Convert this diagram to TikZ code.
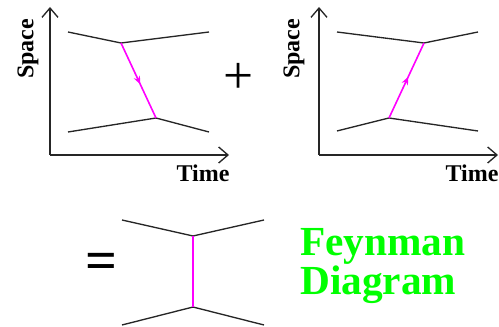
\documentclass[tikz,border=0pt]{standalone}
\usepackage{fontspec}
\setmainfont{Liberation Serif}
\usetikzlibrary{arrows.meta, decorations.markings}
\definecolor{propmag}{RGB}{255, 0, 255}
\definecolor{titlegreen}{RGB}{0, 255, 0}

\begin{document}
\begin{tikzpicture}[
        x=0.75pt, y=-0.75pt,
        axis/.style={-{Straight Barb[length=7pt, width=12pt]}, line width=1pt, black!85},
        leg/.style={line width=1pt, black!85},
        prop/.style={line width=1.2pt, propmag},
        propmid/.style={prop, postaction={decorate}, decoration={markings,
                        mark=at position 0.55 with {\arrow{Stealth[length=6pt, width=5pt]}}}},
        axlabel/.style={font=\fontsize{18}{20}\selectfont\bfseries, inner sep=0pt},
        sign/.style={font=\fontsize{40}{42}\selectfont, inner sep=0pt}
      ]
        \useasboundingbox (0,0) rectangle (499,327);

        % first panel
        \coordinate (o1) at (50,155);
        \coordinate (y1) at (50,7);
        \coordinate (x1) at (229,155);
        \draw[axis] (o1) -- (y1);
        \draw[axis] (o1) -- (x1);
        \coordinate (tl1) at (68,32);
        \coordinate (tv1) at (121,43);
        \coordinate (tr1) at (209,32);
        \coordinate (bl1) at (68,132);
        \coordinate (bv1) at (156,118);
        \coordinate (br1) at (209,132);
        \draw[leg] (tl1) -- (tv1) -- (tr1);
        \draw[leg] (bl1) -- (bv1) -- (br1);
        \draw[propmid] (tv1) -- (bv1);
        \node[axlabel, rotate=90] (space1) at (28,49) {Space};
        \node[axlabel] (time1) at (203,173) {Time};

        \node[sign] (plus) at (238.5,78.5) {+};

        % second panel
        \coordinate (o2) at (319,155);
        \coordinate (y2) at (319,7);
        \coordinate (x2) at (498,155);
        \draw[axis] (o2) -- (y2);
        \draw[axis] (o2) -- (x2);
        \coordinate (tl2) at (337,32);
        \coordinate (tv2) at (424,43);
        \coordinate (tr2) at (478,32);
        \coordinate (bl2) at (337,131);
        \coordinate (bv2) at (389,118);
        \coordinate (br2) at (478,131);
        \draw[leg] (tl2) -- (tv2) -- (tr2);
        \draw[leg] (bl2) -- (bv2) -- (br2);
        \draw[propmid] (bv2) -- (tv2);
        \node[axlabel, rotate=90] (space2) at (294,49) {Space};
        \node[axlabel] (time2) at (472,173) {Time};

        % result
        \node[sign, font=\fontsize{42}{44}\selectfont\bfseries] (equals) at (101.5,266) {=};
        \coordinate (tl3) at (122,220);
        \coordinate (tv3) at (193,236);
        \coordinate (tr3) at (264,220);
        \coordinate (bl3) at (122,325);
        \coordinate (bv3) at (193,307);
        \coordinate (br3) at (264,325);
        \draw[leg] (tl3) -- (tv3) -- (tr3);
        \draw[leg] (bl3) -- (bv3) -- (br3);
        \draw[prop] (tv3) -- (bv3);
        \node[font=\fontsize{31}{26}\selectfont\bfseries, text=titlegreen, align=left,
              anchor=west, inner sep=0pt] (title) at (300,266) {Feynman\\Diagram};
      \end{tikzpicture}
\end{document}
